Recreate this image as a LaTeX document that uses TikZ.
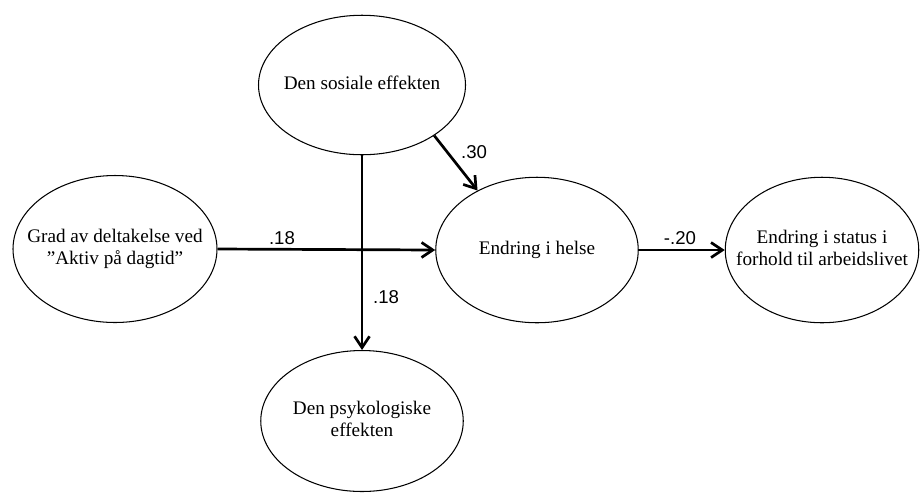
\documentclass[tikz,border=0pt]{standalone}
\usepackage{fontspec}
\setmainfont{Liberation Serif}
\newfontfamily\labelfont{Liberation Sans}
\usetikzlibrary{arrows.meta, shapes.geometric}

% text inside an oval, kept from widening the oval
\newcommand{\ovaltext}[1]{\makebox[0pt]{\begin{tabular}{@{}c@{}}#1\end{tabular}}}

\begin{document}
\begin{tikzpicture}[x=0.6667pt, y=-0.6667pt]

  % Define styles
  \tikzstyle{oval} = [ellipse, draw, line width=0.7pt, fill=white, inner sep=0pt,
                      font=\fontsize{12.8}{14.7}\selectfont]
  \tikzstyle{coef} = [inner sep=1pt, font=\labelfont\fontsize{12.4}{14}\selectfont]
  \tikzstyle{path_arrow} = [draw, line width=1.8pt, -{Straight Barb[length=7.5pt, width=10pt]}]

  \useasboundingbox (0,0) rectangle (920,493);

  % Ovals
  \node[oval, minimum width=136pt, minimum height=98pt] (delt) at (115, 249)
    {\ovaltext{Grad av deltakelse ved\\ ”Aktiv på dagtid”}};
  \node[oval, minimum width=138pt, minimum height=93pt] (sos) at (362, 85)
    {\ovaltext{Den sosiale effekten}};
  \node[oval, minimum width=135pt, minimum height=94pt] (psyk) at (362, 421)
    {\ovaltext{Den psykologiske\\ effekten}};
  \node[oval, minimum width=135pt, minimum height=97pt] (helse) at (537, 250)
    {\ovaltext{Endring i helse}};
  \node[oval, minimum width=129pt, minimum height=97pt] (arb) at (822, 250)
    {\ovaltext{Endring i status i\\ forhold til arbeidslivet}};

  % Paths
  \draw[path_arrow] (sos.south) -- (psyk.north);
  \draw[path_arrow] (delt.east) -- (helse.west);
  \draw[path_arrow] (sos.-35) -- (helse.135);
  \draw[path_arrow] (helse.east) -- (arb.west);

  % Coefficients
  \node[coef] (c_delt) at (282, 238) {.18};
  \node[coef] (c_psyk) at (386, 297) {.18};
  \node[coef] (c_sos) at (474, 152) {.30};
  \node[coef] (c_arb) at (680, 238) {-.20};

\end{tikzpicture}
\end{document}
